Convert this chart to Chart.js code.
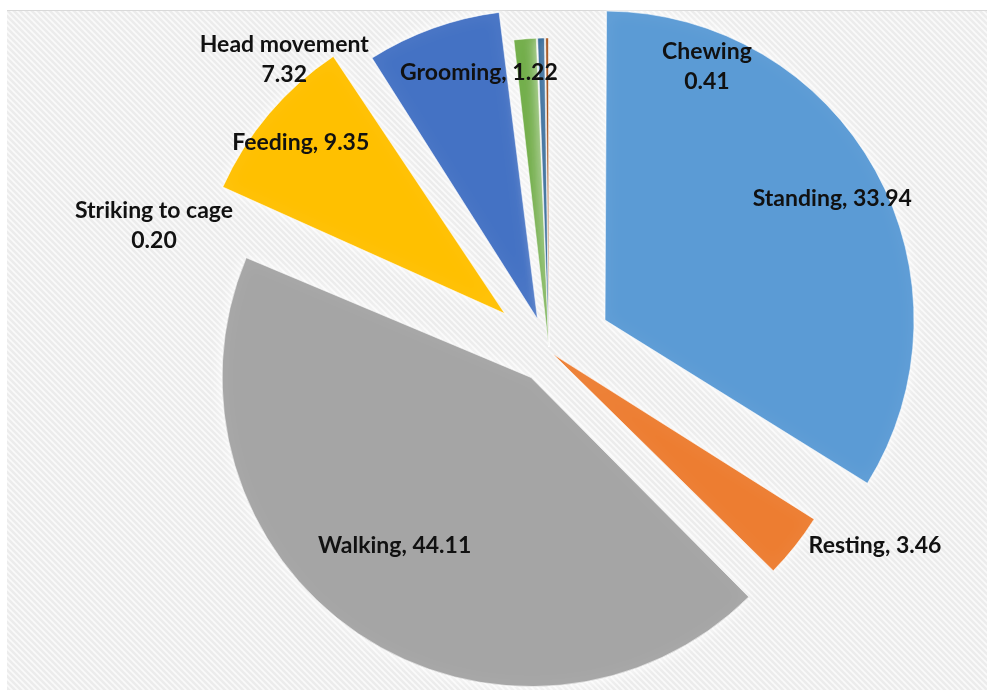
<!DOCTYPE html>
<html>
<head>
<meta charset="utf-8">
<script src="https://cdn.jsdelivr.net/npm/chart.js@4.4.1/dist/chart.umd.min.js"></script>
<style>
  html, body { margin: 0; padding: 0; background: #ffffff; }
  canvas { display: block; }
</style>
</head>
<body>
<canvas id="behaviourPie" width="987" height="690"></canvas>
<script>
// Share of observed time per behaviour (%)
const behaviours = ['Standing', 'Resting', 'Walking', 'Feeding', 'Head movement', 'Grooming', 'Chewing', 'Striking to cage'];
const percentages = [33.94, 3.46, 44.11, 9.35, 7.32, 1.22, 0.41, 0.20];

// Hatched panel behind the pie
const panelBackground = {
  id: 'panelBackground',
  beforeDraw(chart) {
    const ctx = chart.ctx;
    const tile = document.createElement('canvas');
    tile.width = 6; tile.height = 6;
    const t = tile.getContext('2d');
    t.fillStyle = '#ececec';
    t.fillRect(0, 0, 6, 6);
    t.strokeStyle = '#fafafa';
    t.lineWidth = 1.6;
    t.beginPath();
    t.moveTo(-1, -1); t.lineTo(7, 7);
    t.moveTo(-1, 5); t.lineTo(1, 7);
    t.moveTo(5, -1); t.lineTo(7, 1);
    t.stroke();
    ctx.save();
    ctx.fillStyle = '#ffffff';
    ctx.fillRect(0, 0, chart.width, chart.height);
    ctx.fillStyle = ctx.createPattern(tile, 'repeat');
    ctx.fillRect(7, 10, chart.width - 7, chart.height - 10);
    ctx.strokeStyle = '#d9d9d9';
    ctx.lineWidth = 1;
    ctx.beginPath();
    ctx.moveTo(7, 10.5); ctx.lineTo(chart.width, 10.5);
    ctx.stroke();
    ctx.restore();
  }
};

// Exploded slices keep the same radius; add a soft light glow round them
const explodedSlices = {
  id: 'explodedSlices',
  beforeDatasetDraw(chart, args) {
    const meta = args.meta;
    const R = meta.controller.outerRadius;
    meta.data.forEach(arc => {
      const shift = (arc.options.offset || 0) / 4;
      const circ = arc.endAngle - arc.startAngle;
      const fix = 1 - Math.sin(Math.min(Math.PI, circ));
      arc.outerRadius = R - shift * fix;
    });
    const ctx = chart.ctx;
    ctx.save();
    ctx.shadowColor = 'rgba(255,255,255,0.95)';
    ctx.shadowBlur = 14;
  },
  afterDatasetDraw(chart) {
    chart.ctx.restore();
  }
};

// Category / value labels placed around each slice
const sliceLabels = {
  id: 'sliceLabels',
  afterDatasetsDraw(chart, args, opts) {
    const meta = chart.getDatasetMeta(0);
    const R = meta.controller.outerRadius;
    const values = chart.data.datasets[0].data;
    const ctx = chart.ctx;
    ctx.save();
    ctx.font = opts.font;
    ctx.fillStyle = opts.color;
    ctx.textAlign = 'center';
    ctx.textBaseline = 'middle';
    meta.data.forEach((arc, i) => {
      const place = opts.placement[i];
      const mid = (arc.startAngle + arc.endAngle) / 2;
      const shift = (arc.options.offset || 0) / 4;
      const ax = arc.x + Math.cos(mid) * (shift + R / 2) + place.dx;
      const ay = arc.y + Math.sin(mid) * (shift + R / 2) + place.dy;
      const name = chart.data.labels[i];
      const val = values[i].toFixed(2);
      if (place.split) {
        ctx.fillText(name, ax, ay - opts.lineGap / 2);
        ctx.fillText(val, ax, ay + opts.lineGap / 2);
      } else {
        ctx.fillText(name + ', ' + val, ax, ay);
      }
    });
    ctx.restore();
  }
};

new Chart(document.getElementById('behaviourPie'), {
  type: 'pie',
  data: {
    labels: behaviours,
    datasets: [{
      data: percentages,
      backgroundColor: ['#5B9BD5', '#ED7D31', '#A5A5A5', '#FFC000', '#4472C4', '#70AD47', '#255E91', '#9E480E'],
      offset: [256, 20, 128, 232, 136, 16, 16, 16],
      borderWidth: 1,
      borderColor: 'rgba(255,255,255,0.55)',
      clip: false
    }]
  },
  options: {
    responsive: false,
    animation: false,
    radius: 309,
    layout: { padding: { left: 111, top: 12, right: 0, bottom: 0 } },
    plugins: {
      legend: { display: false },
      tooltip: { enabled: false },
      sliceLabels: {
        font: 'bold 23px Lato',
        color: '#111111',
        lineGap: 30,
        placement: [
          { dx: 92, dy: -47 },
          { dx: 201, dy: 96 },
          { dx: -50, dy: 40 },
          { dx: -86, dy: -71 },
          { dx: -201, dy: -114, split: true },
          { dx: -58, dy: -120 },
          { dx: 162, dy: -126, split: true },
          { dx: -394, dy: 33, split: true }
        ]
      }
    }
  },
  plugins: [panelBackground, explodedSlices, sliceLabels]
});
</script>
</body>
</html>
